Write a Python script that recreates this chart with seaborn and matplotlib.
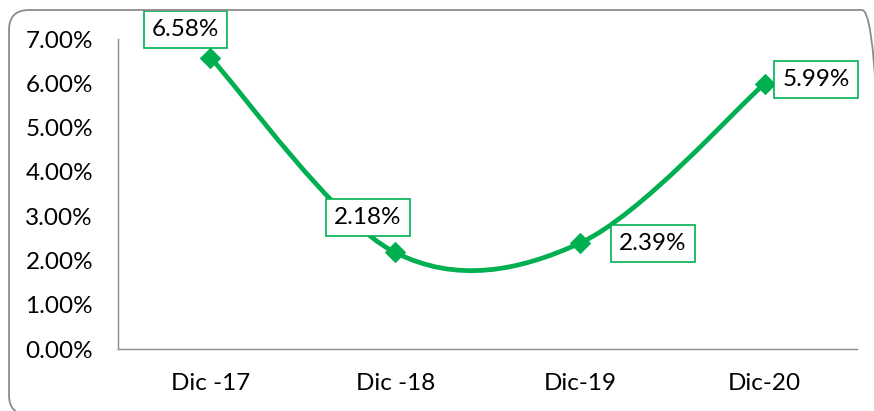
import matplotlib
matplotlib.use('Agg')
import matplotlib.pyplot as plt
import seaborn as sns
from matplotlib.path import Path
from matplotlib.patches import PathPatch, FancyBboxPatch
from matplotlib.transforms import IdentityTransform

# datos del gráfico
periodos = ['Dic -17', 'Dic -18', 'Dic-19', 'Dic-20']
tasas = [6.58, 2.18, 2.39, 5.99]
etiquetas = ['6.58%', '2.18%', '2.39%', '5.99%']
y_ticks = [0, 1, 2, 3, 4, 5, 6, 7]

verde = '#00B050'
gris = '#8c8c8c'

sns.set_style('white')
plt.rcParams['font.family'] = ['Lato', 'DejaVu Sans']

fig = plt.figure(figsize=(8.74, 4.11), dpi=100)
ax = fig.add_axes([118 / 874, 62 / 411, 739 / 874, 310 / 411])

# línea suavizada estilo Excel (bezier tipo catmull-rom)
xs = list(range(len(tasas)))
verts = [(xs[0], tasas[0])]
codes = [Path.MOVETO]
n = len(tasas)
for i in range(n - 1):
    p0 = (xs[max(i - 1, 0)], tasas[max(i - 1, 0)])
    p1 = (xs[i], tasas[i])
    p2 = (xs[i + 1], tasas[i + 1])
    p3 = (xs[min(i + 2, n - 1)], tasas[min(i + 2, n - 1)])
    c1 = (p1[0] + (p2[0] - p0[0]) / 6, p1[1] + (p2[1] - p0[1]) / 6)
    c2 = (p2[0] - (p3[0] - p1[0]) / 6, p2[1] - (p3[1] - p1[1]) / 6)
    verts += [c1, c2, p2]
    codes += [Path.CURVE4] * 3
ax.add_patch(PathPatch(Path(verts, codes), facecolor='none', edgecolor=verde,
                       lw=3.4, capstyle='round', zorder=2))

# marcadores
sns.lineplot(x=xs, y=tasas, ax=ax, marker='D', linestyle='', markersize=10.5,
             color=verde, markeredgecolor=verde, zorder=3)

# etiquetas de datos
offsets = [(-18, 20), (-19.5, 25), (52.5, -0.5), (37, 3)]
for x, y, txt, off in zip(xs, tasas, etiquetas, offsets):
    ax.annotate(txt, (x, y), xytext=off, textcoords='offset points',
                ha='center', va='center', fontsize=17.5, color='black',
                bbox=dict(boxstyle='square,pad=0.33', fc='white', ec=verde, lw=1.2),
                zorder=4)

ax.set_xlim(-0.5, 3.5)
ax.set_ylim(0, 7)
ax.set_xticks(xs)
ax.set_xticklabels(periodos)
ax.set_yticks(y_ticks)
ax.set_yticklabels([f'{v:.2f}%' for v in y_ticks])
ax.tick_params(axis='both', length=0, labelsize=17.5, colors='black')
ax.tick_params(axis='y', pad=18)
ax.tick_params(axis='x', pad=17)
for lado in ['top', 'right']:
    ax.spines[lado].set_visible(False)
for lado in ['left', 'bottom']:
    ax.spines[lado].set_color(gris)
    ax.spines[lado].set_linewidth(1)
ax.set_xlabel('')
ax.set_ylabel('')

# marco exterior redondeado
marco = FancyBboxPatch((9, -4), 873, 405, boxstyle='round,pad=0,rounding_size=20',
                       fc='none', ec=gris, lw=1.3, transform=IdentityTransform())
fig.add_artist(marco)

fig.savefig('out.png', dpi=100)
